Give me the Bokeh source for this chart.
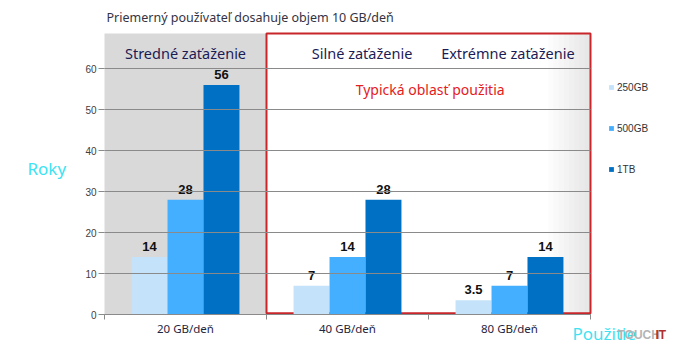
from bokeh.plotting import figure
from bokeh.models import ColumnDataSource, Range1d, FixedTicker, Label, Legend, LegendItem
from bokeh.core.properties import value
from bokeh.embed import file_html
from bokeh.resources import INLINE

# ---- data ----
categories = ["20 GB/deň", "40 GB/deň", "80 GB/deň"]
series = ["250GB", "500GB", "1TB"]
v250 = [14, 7, 3.5]
v500 = [28, 14, 7]
v1tb = [56, 28, 14]
y_ticks = [0, 10, 20, 30, 40, 50, 60]
zones = ["Stredné zaťaženie", "Silné zaťaženie", "Extrémne zaťaženie"]
title_text = "Priemerný používateľ dosahuje objem 10 GB/deň"
region_text = "Typická oblasť použitia"
y_title = "Roky"
x_title = "Použitie"

colors = ["#C4E3FA", "#45AFFF", "#0070C4"]
FONT = "Noto Sans"
NUMF = "Liberation Sans"

W, H = 679, 353
# the frame covers the whole canvas; axes are pinned with fixed_location
PX0, PXU = 104.0, 162.0   # pixel of x=0, pixels per category
PY0, PYU = 314.0, 4.1     # pixel of y=0, pixels per unit
x_range = Range1d(-PX0 / PXU, (W - PX0) / PXU)
y_range = Range1d(-(H - PY0) / PYU, PY0 / PYU)
YTOP = (PY0 - 33) / PYU

p = figure(width=W, height=H, output_backend="svg", toolbar_location=None, title=None,
           x_range=x_range, y_range=y_range,
           min_border=0, min_border_left=0, min_border_right=0, min_border_top=0,
           min_border_bottom=0)
p.outline_line_color = None
p.background_fill_color = "white"
p.border_fill_color = "white"

centers = [i + 0.5 for i in range(len(categories))]

# grey "medium load" zone (underlay so the grid lines are drawn over it)
g = p.quad(left=[0], right=[1], bottom=[0], top=[YTOP], fill_color="#D9D9D9", line_color=None)
g.level = "underlay"
# soft shading towards the right edge of the red box
shade = ["#FCFCFC", "#F9F9F9", "#F6F6F6", "#F3F3F3", "#F0F0F0", "#EDEDED", "#EAEAEA", "#E7E7E7"]
for i, c in enumerate(shade):
    l = 2.74 + i * 0.032
    s = p.quad(left=[l], right=[3], bottom=[0], top=[YTOP], fill_color=c, line_color=None)
    s.level = "underlay"

grid = p.ygrid[0]
grid.level = "glyph"
grid.grid_line_color = "#8A8A8A"
grid.ticker = FixedTicker(ticks=y_ticks)
has_cross = "cross_bounds" in grid.properties()
if has_cross:
    grid.cross_bounds = (0, 3)
p.xgrid.grid_line_color = None

if not has_cross:
    for l, r_ in [(x_range.start, 0), (3, x_range.end)]:
        p.quad(left=[l], right=[r_], bottom=[y_range.start], top=[y_range.end],
               fill_color="white", line_color=None)

# red "typical usage" box
p.quad(left=[1], right=[3], bottom=[0.3], top=[YTOP], fill_color=None,
       line_color="#C8262B", line_width=2)

bw = 0.222
offs = [-bw, 0, bw]
vals = [v250, v500, v1tb]
rends = []
for k, (vs, col) in enumerate(zip(vals, colors)):
    src = ColumnDataSource(dict(x=[c + offs[k] for c in centers], top=vs,
                                lab=[("%g" % v) for v in vs]))
    r = p.vbar(x="x", top="top", width=bw, source=src, fill_color=col, line_color=None)
    rends.append(r)
    p.text(x="x", y="top", text="lab", source=src, text_align="center",
           text_baseline="bottom", y_offset=-6, text_font=value(NUMF),
           text_font_style="bold", text_font_size="13px", text_color="#111111")

zsrc = ColumnDataSource(dict(x=[0.5, 1.59, 2.49], y=[(PY0 - 52) / PYU] * 3, t=zones))
p.text(x="x", y="y", text="t", source=zsrc, text_align="center", text_baseline="middle",
       text_font=value(FONT), text_font_size="14.5px", text_color="#1B1B55")
p.text(x=[2.01], y=[(PY0 - 89) / PYU], text=[region_text], text_align="center",
       text_baseline="middle", text_font=value(FONT), text_font_size="14px",
       text_color="#E3201E")

# axes pinned inside the frame
ya = p.yaxis[0]
ya.fixed_location = 0
ya.ticker = FixedTicker(ticks=y_ticks)
ya.axis_line_color = None
ya.major_tick_line_color = "#8A8A8A"
ya.major_tick_out = 6
ya.major_tick_in = 0
ya.minor_tick_line_color = None
ya.major_label_text_font = NUMF
ya.major_label_text_font_size = "10px"
ya.major_label_text_color = "#404040"
ya.major_label_standoff = 2

xa = p.xaxis[0]
xa.fixed_location = 0
xa.bounds = (0, 3)
xa.ticker = FixedTicker(ticks=centers, minor_ticks=[0, 1, 2, 3])
xa.major_label_overrides = {c: n for c, n in zip(centers, categories)}
xa.axis_line_color = "#8A8A8A"
xa.major_tick_line_color = None
xa.major_tick_out = 0
xa.major_tick_in = 0
xa.minor_tick_line_color = "#8A8A8A"
xa.minor_tick_out = 5
xa.minor_tick_in = 0
xa.major_label_text_font = FONT
xa.major_label_text_font_size = "11.5px"
xa.major_label_text_color = "#1F2440"
xa.major_label_standoff = 1

legend = Legend(items=[LegendItem(label=s, renderers=[r]) for s, r in zip(series, rends)],
                location=(608, H - 175), orientation="vertical", glyph_width=6, glyph_height=6,
                label_height=12, spacing=29, padding=0, margin=0, label_standoff=3,
                label_text_font=NUMF, label_text_font_size="10px", label_text_color="#333333",
                border_line_color=None, background_fill_alpha=0)
p.add_layout(legend)

def lab(txt, px, py, size, color, font=FONT, style="normal"):
    p.add_layout(Label(x=px, y=H - py, x_units="screen", y_units="screen", text=txt,
                       text_font=font, text_font_size=size, text_color=color,
                       text_font_style=style, text_align="left", text_baseline="middle"))

lab(title_text, 106, 17, "12.5px", "#333344")
lab(y_title, 27, 168, "17px", "#3DE3F2")
lab(x_title, 572, 333, "17px", "#3DE3F2")
lab("TOUCH", 617, 334, "12px", "#B4B4B4", font=NUMF, style="bold")
lab("IT", 655, 334, "12px", "#B03030", font=NUMF, style="bold")

open("out.html", "w").write(file_html(p, INLINE))
